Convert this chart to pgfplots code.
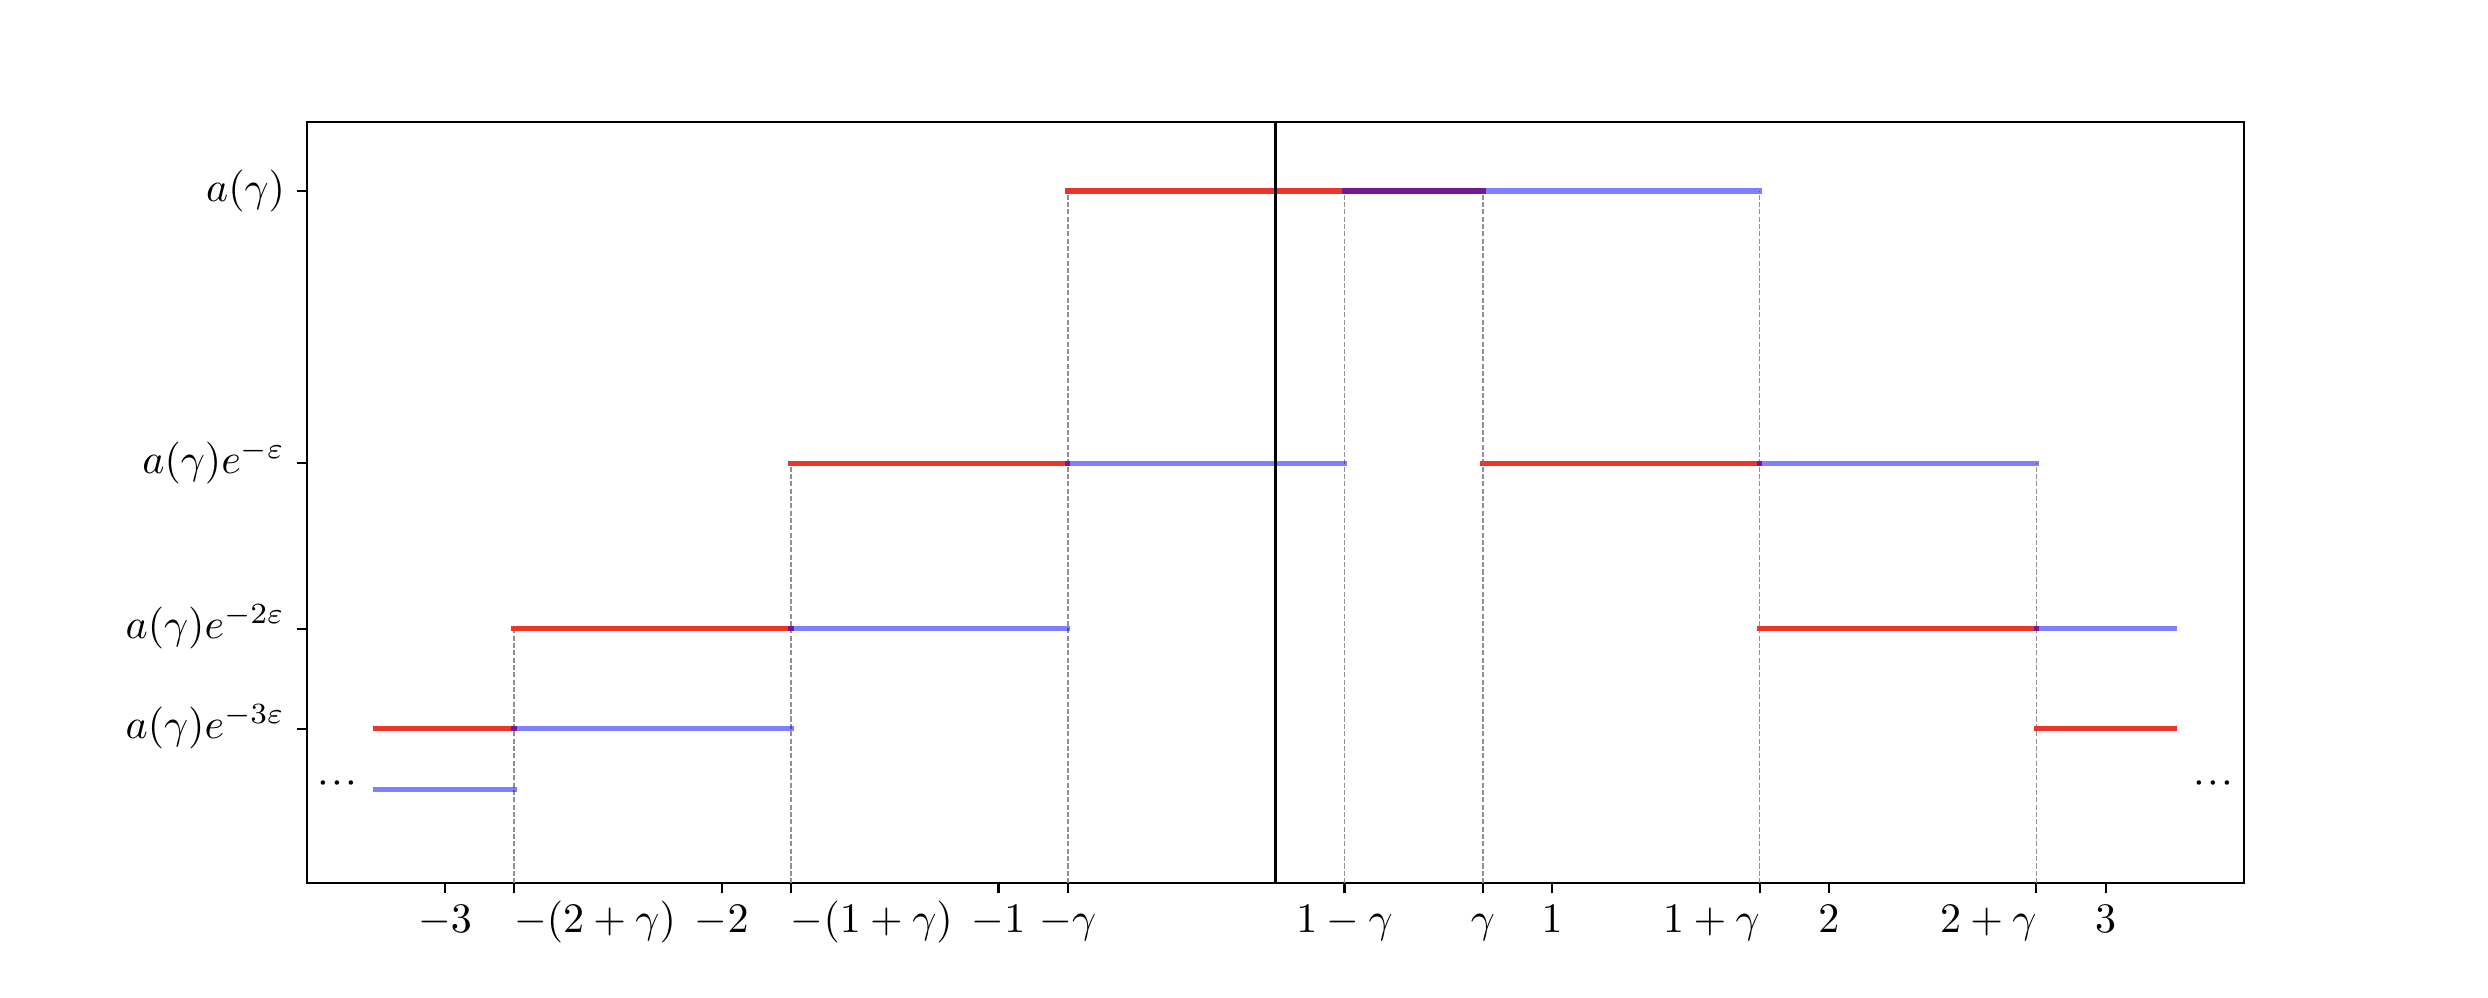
\documentclass[border=0pt]{standalone}
\usepackage{graphicx}
\usepackage{pgfplots}
\pgfplotsset{compat=1.18}
\definecolor{myred}{RGB}{236,52,40}
\definecolor{myblue}{RGB}{0,0,255}
\definecolor{dgray}{RGB}{145,145,145}
\newcommand{\lft}[1]{\makebox[0pt][l]{$#1$}}
\newcommand{\rgt}[1]{\makebox[0pt][r]{$#1$}}
\newcommand{\mydots}{$\mathord{\cdot}\mkern1mu\mathord{\cdot}\mkern1mu\mathord{\cdot}$}
\begin{document}
\begin{tikzpicture}
\begin{axis}[
  scale only axis, width=461.3pt, height=181.3pt,
  xmin=-3.5, xmax=3.5, ymin=0, ymax=1.1,
  axis line style={line width=0.5pt},
  tick align=outside, xtick pos=bottom, ytick pos=left,
  major tick length=2.4pt,
  tick style={black, line width=0.5pt},
  xtick={-3,-2.75,-2,-1.75,-1,-0.75,0.25,0.75,1,1.75,2,2.75,3},
  xticklabels={$-3$,\lft{-(2+\gamma)},$-2$,\lft{-(1+\gamma)},$-1$,$-\gamma$,$1-\gamma$,$\gamma$,$1$,\rgt{1+\gamma},$2$,\rgt{2+\gamma},$3$},
  ytick={1,0.60653,0.36788,0.22313},
  yticklabels={$a(\gamma)$,$a(\gamma)e^{-\varepsilon}$,$a(\gamma)e^{-2\varepsilon}$,$a(\gamma)e^{-3\varepsilon}$},
  yticklabel style={xshift=0.8pt},
  xticklabel style={yshift=2.5pt},
  typeset ticklabels with strut,
  clip=false,
  red seg/.style={myred, line width=1.27pt, line cap=rect, forget plot},
  blue seg/.style={myblue, opacity=0.5, line width=1.27pt, line cap=rect, forget plot},
  guide/.style={dgray, line width=0.4pt, dash pattern=on 1.2pt off 0.55pt, forget plot},
]
% guide lines
\addplot[guide] coordinates {(-2.75,0) (-2.75,0.36788)};
\addplot[guide] coordinates {(-1.75,0) (-1.75,0.60653)};
\addplot[guide] coordinates {(-0.75,0) (-0.75,1)};
\addplot[guide] coordinates {(0.25,0) (0.25,1)};
\addplot[guide] coordinates {(0.75,0) (0.75,1)};
\addplot[guide] coordinates {(1.75,0) (1.75,1)};
\addplot[guide] coordinates {(2.75,0) (2.75,0.60653)};
% red segments
\addplot[red seg] coordinates {(-0.75,1) (0.75,1)};
\addplot[red seg] coordinates {(-1.75,0.60653) (-0.75,0.60653)};
\addplot[red seg] coordinates {(0.75,0.60653) (1.75,0.60653)};
\addplot[red seg] coordinates {(-2.75,0.36788) (-1.75,0.36788)};
\addplot[red seg] coordinates {(1.75,0.36788) (2.75,0.36788)};
\addplot[red seg] coordinates {(-3.25,0.22313) (-2.75,0.22313)};
\addplot[red seg] coordinates {(2.75,0.22313) (3.25,0.22313)};
% blue segments
\addplot[blue seg] coordinates {(0.25,1) (1.75,1)};
\addplot[blue seg] coordinates {(-0.75,0.60653) (0.25,0.60653)};
\addplot[blue seg] coordinates {(1.75,0.60653) (2.75,0.60653)};
\addplot[blue seg] coordinates {(-1.75,0.36788) (-0.75,0.36788)};
\addplot[blue seg] coordinates {(2.75,0.36788) (3.25,0.36788)};
\addplot[blue seg] coordinates {(-2.75,0.22313) (-1.75,0.22313)};
\addplot[blue seg] coordinates {(-3.25,0.13534) (-2.75,0.13534)};
% vertical axis line at 0
\addplot[black, line width=0.65pt, forget plot] coordinates {(0,0) (0,1.1)};
% dots
\node at (axis cs:-3.39,0.1434) {\mydots};
\node at (axis cs:3.39,0.1434) {\mydots};
\end{axis}
\path (-73.0pt,-27.3pt) rectangle (519.4pt,210.3pt);
\end{tikzpicture}
\end{document}
